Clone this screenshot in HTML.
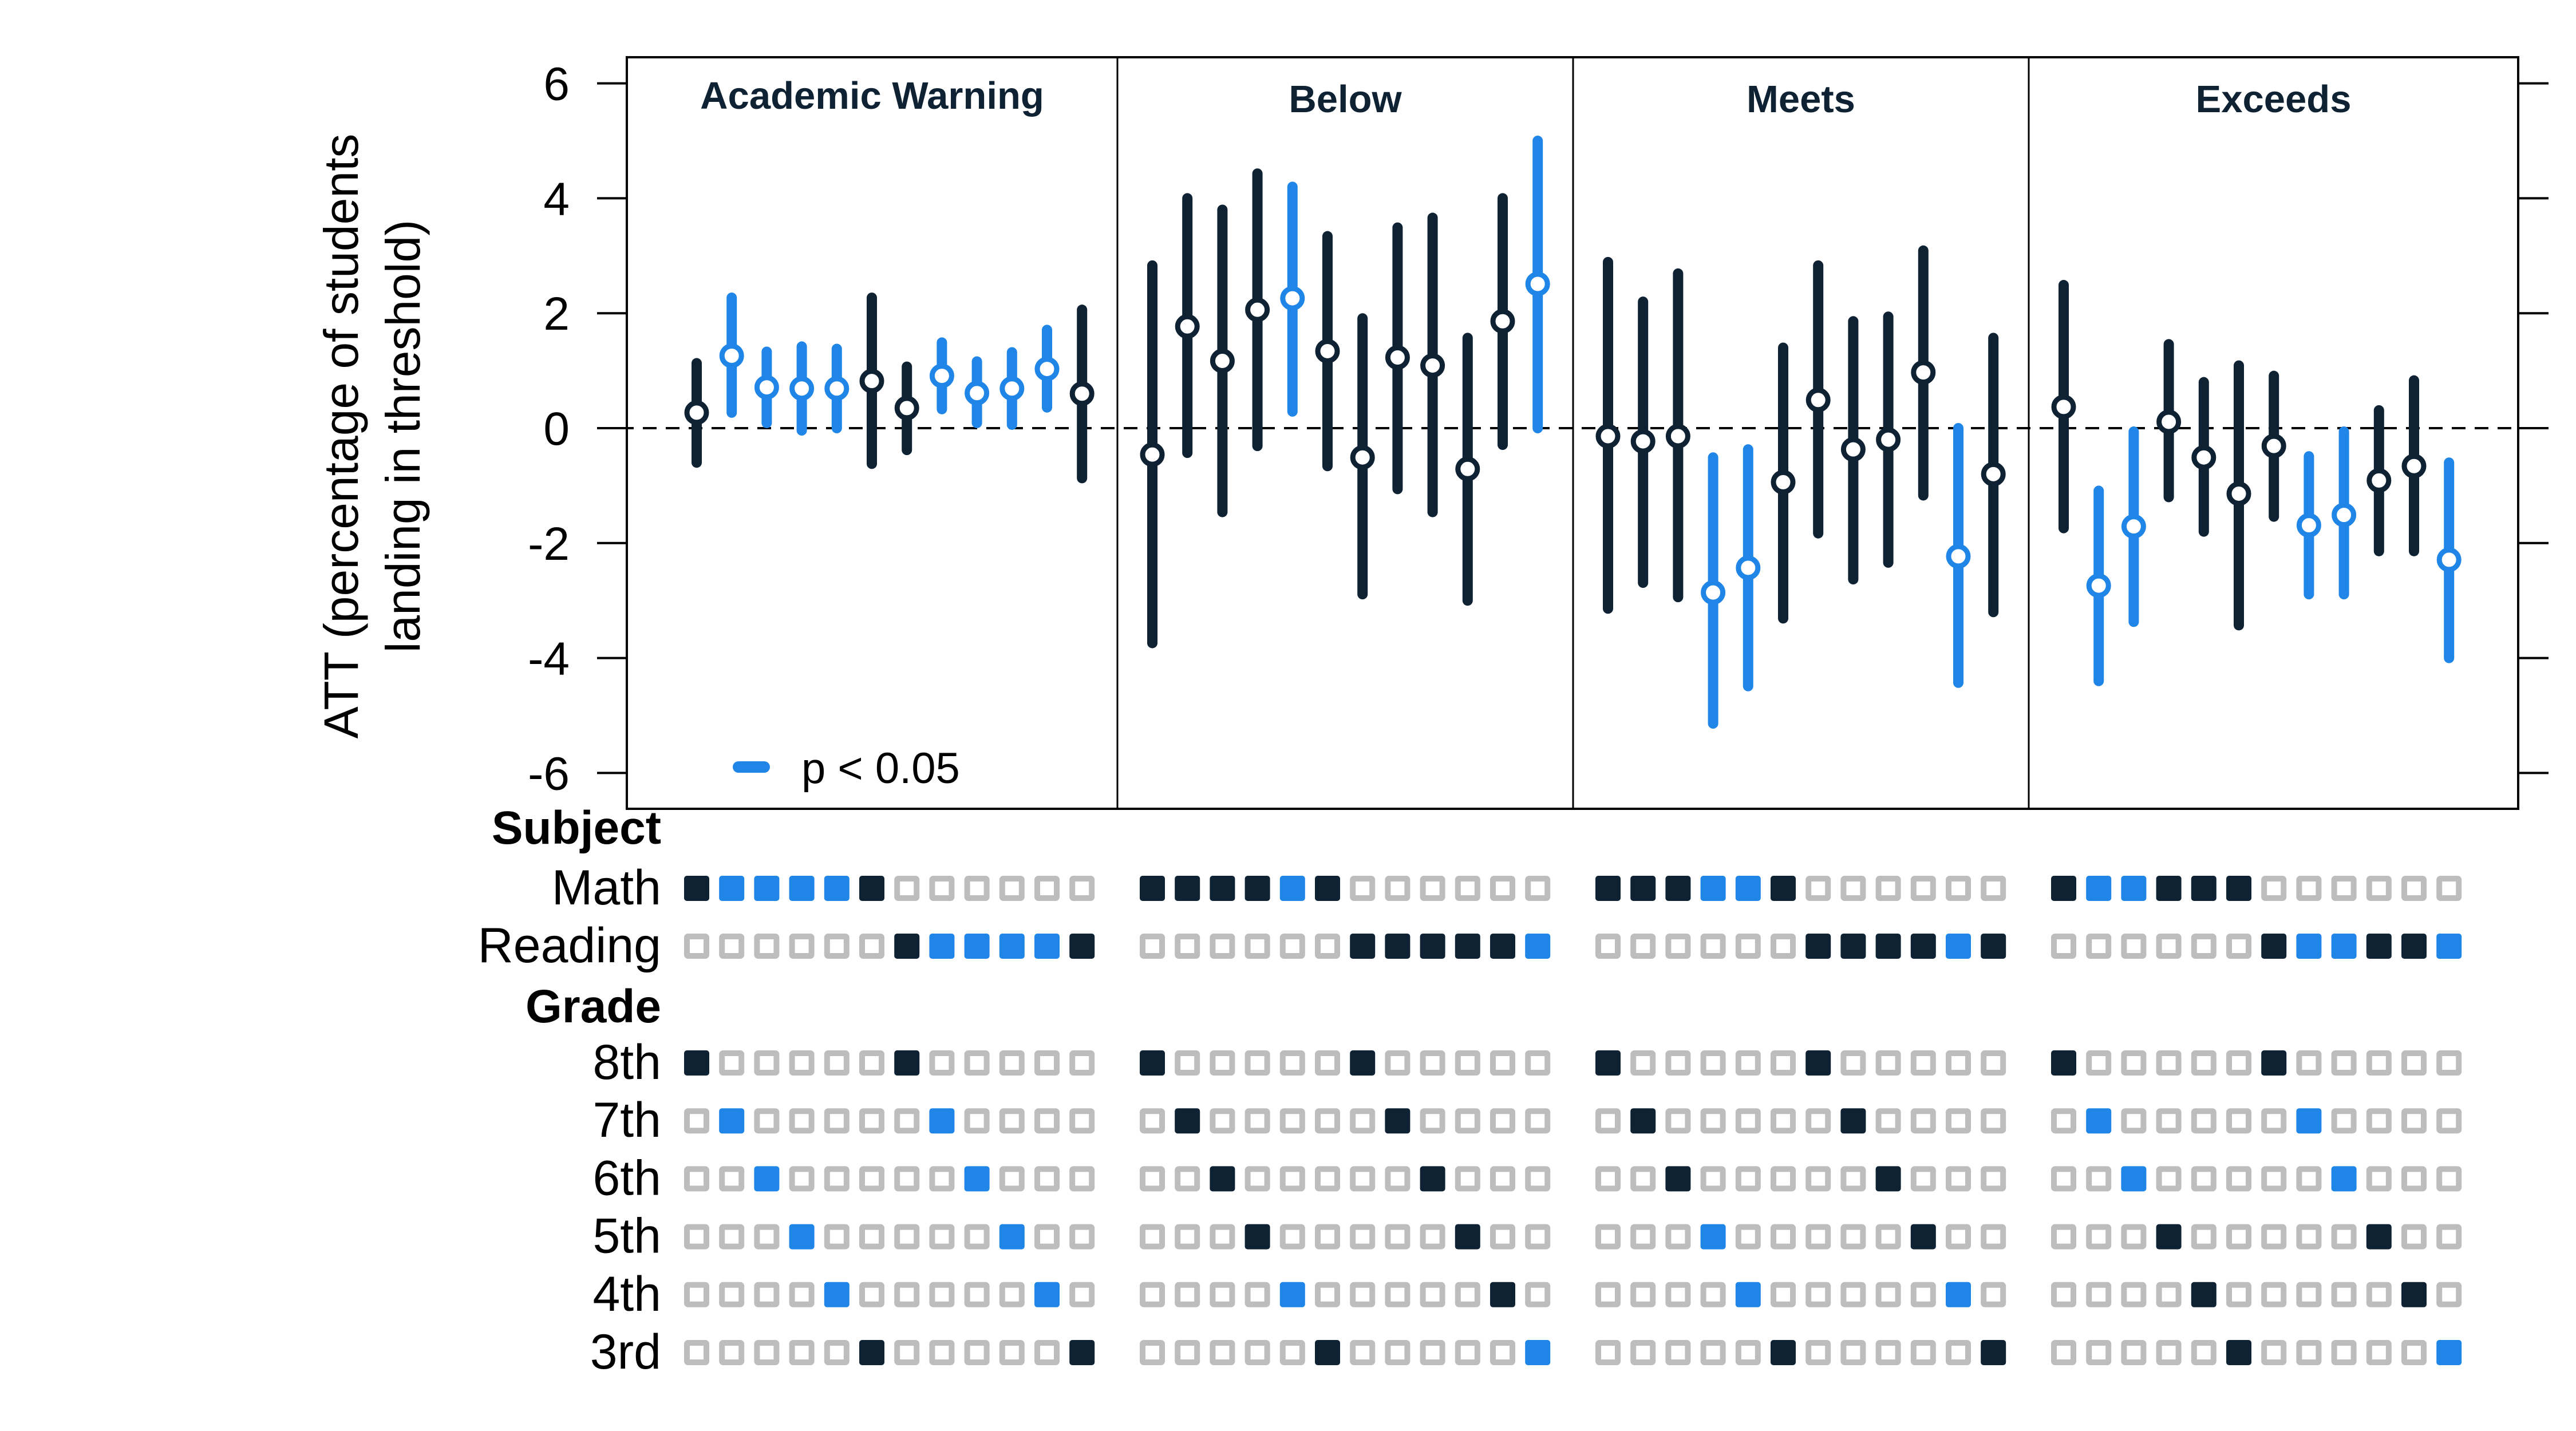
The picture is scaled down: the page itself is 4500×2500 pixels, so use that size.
<!DOCTYPE html>
<html><head><meta charset="utf-8">
<style>
html,body{margin:0;padding:0;background:#fff;}
svg{display:block;font-family:"Liberation Sans",Arial,sans-serif;}
</style></head>
<body>
<svg id="chart" xmlns="http://www.w3.org/2000/svg" width="4500" height="2500" viewBox="0 0 4500 2500">
<g id="axes"></g>
<g id="marks"></g>
<g id="matrix"></g>
</svg>
<script>
const panels = ["Academic Warning","Below","Meets","Exceeds"];
const yTicks = [6,4,2,0,-2,-4,-6];
const subjects = ["Math","Reading"];
const grades = ["8th","7th","6th","5th","4th","3rd"];
// estimates per panel (12 each)
const est = [
 [0.27,1.26,0.71,0.69,0.69,0.82,0.35,0.91,0.61,0.69,1.03,0.60],
 [-0.46,1.77,1.17,2.06,2.26,1.34,-0.51,1.23,1.09,-0.71,1.86,2.51],
 [-0.14,-0.23,-0.14,-2.86,-2.43,-0.94,0.49,-0.37,-0.20,0.97,-2.23,-0.80],
 [0.37,-2.74,-1.71,0.11,-0.51,-1.14,-0.31,-1.69,-1.51,-0.91,-0.66,-2.29]
];
const hi = [
 [1.13,2.27,1.33,1.42,1.38,2.27,1.07,1.49,1.16,1.32,1.71,2.06],
 [2.83,4.00,3.80,4.43,4.20,3.34,1.91,3.49,3.66,1.57,4.00,5.00],
 [2.89,2.20,2.69,-0.51,-0.37,1.40,2.83,1.86,1.94,3.09,0.00,1.57],
 [2.49,-1.09,-0.06,1.46,0.80,1.09,0.91,-0.49,-0.06,0.31,0.83,-0.60]
];
const lo = [
 [-0.60,0.27,0.09,-0.04,0.00,-0.62,-0.38,0.33,0.09,0.06,0.36,-0.87],
 [-3.74,-0.43,-1.46,-0.31,0.29,-0.66,-2.89,-1.06,-1.46,-3.00,-0.29,0.00],
 [-3.14,-2.69,-2.94,-5.14,-4.49,-3.31,-1.83,-2.63,-2.34,-1.17,-4.43,-3.20],
 [-1.74,-4.40,-3.37,-1.20,-1.80,-3.43,-1.54,-2.89,-2.89,-2.14,-2.14,-4.00]
];
const sig = [
 [0,1,1,1,1,0,0,1,1,1,1,0],
 [0,0,0,0,1,0,0,0,0,0,0,1],
 [0,0,0,1,1,0,0,0,0,0,1,0],
 [0,1,1,0,0,0,0,1,1,0,0,1]
];
const subjectOf = [0,0,0,0,0,0,1,1,1,1,1,1];
const gradeOf = [0,1,2,3,4,5,0,1,2,3,4,5];

const NS="http://www.w3.org/2000/svg";
const DARK="#0e2233", BLUE="#1f86e8", GREY="#bdbdbd";
const L=1095, R=4399, T=100, B=1413;
const panelEdges=[1095,1952,2748,3544,4399];
function yScale(v){return 748 - v*100.4;}
function xScale(p,i){return 1217 + p*796 + i*61.2;}
function mk(tag,attrs,parent){const e=document.createElementNS(NS,tag);for(const k in attrs)e.setAttribute(k,attrs[k]);parent.appendChild(e);return e;}
const axes=document.getElementById('axes'), marks=document.getElementById('marks'), matrix=document.getElementById('matrix');

yTicks.forEach(v=>{
  const y=yScale(v);
  const t=mk('line',{x1:1043,x2:L,y1:y,y2:y,stroke:'#000','stroke-width':4},axes);
  
  
  const t2=mk('line',{x1:R,x2:4452,y1:y,y2:y,stroke:'#000','stroke-width':4},axes);
  
  
  const lb=mk('text',{x:995,y:y+29,'text-anchor':'end','font-size':82,fill:'#000'},axes);
  lb.textContent=String(v);
  
  
});
const z=mk('line',{x1:1043,x2:R,y1:yScale(0),y2:yScale(0),stroke:'#000','stroke-width':4,'stroke-dasharray':'24 16'},axes);


const fr=mk('rect',{x:L,y:T,width:R-L,height:B-T,fill:'none',stroke:'#000','stroke-width':4},axes);


panelEdges.slice(1,4).forEach(x=>{
  const d=mk('line',{x1:x,x2:x,y1:T,y2:B,stroke:'#000','stroke-width':3},axes);
  
  
});
panels.forEach((p,i)=>{
  const cx=(panelEdges[i]+panelEdges[i+1])/2;
  const tt=mk('text',{x:cx,y:i==0?190:196,'text-anchor':'middle','font-size':67,'font-weight':'bold',fill:DARK},axes);
  tt.textContent=p;
  
  
});
const yt=mk('text',{transform:'translate(625,762) rotate(-90)','text-anchor':'middle','font-size':84,fill:'#000'},axes);


const ts1=mk('tspan',{x:0,y:0},yt); ts1.textContent='ATT (percentage of students';
const ts2=mk('tspan',{x:0,y:108},yt); ts2.textContent='landing in threshold)';
const lg=mk('line',{x1:1290,x2:1335,y1:1340,y2:1340,stroke:BLUE,'stroke-width':20,'stroke-linecap':'round'},axes);


const lt=mk('text',{x:1400,y:1368,'font-size':76,fill:'#000'},axes);
lt.textContent='p < 0.05';



for(let p=0;p<4;p++){for(let i=0;i<12;i++){
  const x=xScale(p,i), col=sig[p][i]?BLUE:DARK;
  const ln=mk('line',{x1:x,x2:x,y1:yScale(hi[p][i]),y2:yScale(lo[p][i]),stroke:col,'stroke-width':18,'stroke-linecap':'round'},marks);
  
  
  const c=mk('circle',{cx:x,cy:yScale(est[p][i]),r:17,fill:'#fff',stroke:col,'stroke-width':9},marks);
  
  
}}

const rowY={Subject:1446,Math:1552,Reading:1653,Grade:1758};
grades.forEach((g,k)=>{rowY[g]=1857+k*101.2;});
function label(txt,bold){
  const t=mk('text',{x:1155,y:rowY[txt]+28,'text-anchor':'end','font-size':bold?82:86,'font-weight':bold?'bold':'normal',fill:'#000'},matrix);
  t.textContent=txt;
  
  
}
label('Subject',true); subjects.forEach(s=>label(s,false));
label('Grade',true); grades.forEach(g=>label(g,false));
function cell(x,y,filled,col){
  const s=filled?44:34;
  const r=mk('rect',{x:x-s/2,y:y-s/2,width:s,height:s,rx:filled?5:2,fill:filled?col:'#fff',stroke:filled?'none':GREY,'stroke-width':filled?0:10},matrix);
  
  
}
for(let p=0;p<4;p++){for(let i=0;i<12;i++){
  const x=xScale(p,i), col=sig[p][i]?BLUE:DARK;
  subjects.forEach((s,k)=>cell(x,rowY[s],subjectOf[i]===k,col));
  grades.forEach((g,k)=>cell(x,rowY[g],gradeOf[i]===k,col));
}}
</script>
</body></html>
